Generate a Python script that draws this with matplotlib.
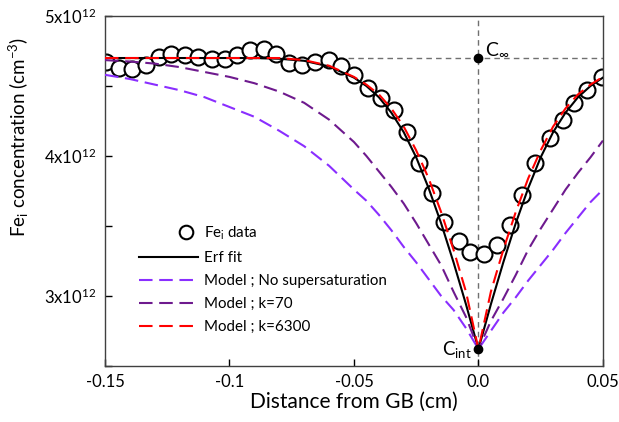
import numpy as np
import matplotlib
matplotlib.use("Agg")
import matplotlib.pyplot as plt
from matplotlib.legend_handler import HandlerLine2D

plt.rcParams['font.family'] = ['Lato', 'DejaVu Sans']
plt.rcParams['mathtext.default'] = 'regular'

# Fe_i measured data (x in cm, y in 1e12 cm^-3)
x_data = [-0.1494, -0.1444, -0.1390, -0.1336, -0.1283, -0.1233, -0.1179, -0.1126,
          -0.1072, -0.1019, -0.0968, -0.0917, -0.0863, -0.0813, -0.0761, -0.0710,
          -0.0656, -0.0602, -0.0550, -0.0498, -0.0445, -0.0393, -0.0341, -0.0287,
          -0.0237, -0.0186, -0.0137, -0.0079, -0.0032, 0.0021, 0.0073, 0.0127,
          0.0177, 0.0228, 0.0286, 0.0338, 0.0385, 0.0438, 0.0496]
y_data = [4.671, 4.629, 4.618, 4.650, 4.707, 4.729, 4.725, 4.707,
          4.691, 4.693, 4.718, 4.757, 4.766, 4.729, 4.664, 4.650,
          4.671, 4.686, 4.643, 4.579, 4.489, 4.412, 4.329, 4.171,
          3.948, 3.734, 3.531, 3.395, 3.316, 3.300, 3.364, 3.507,
          3.721, 3.948, 4.129, 4.257, 4.376, 4.471, 4.562]

# curves
x_curve = [-0.15, -0.14, -0.13, -0.12, -0.11, -0.10, -0.09, -0.08, -0.07, -0.06,
           -0.05, -0.045, -0.04, -0.035, -0.03, -0.025, -0.02, -0.015, -0.01,
           -0.005, 0.0, 0.005, 0.01, 0.015, 0.02, 0.025, 0.03, 0.035, 0.04,
           0.045, 0.05]
y_erf = [4.70, 4.70, 4.70, 4.70, 4.70, 4.70, 4.70, 4.695, 4.68, 4.64,
         4.56, 4.50, 4.42, 4.31, 4.17, 3.99, 3.77, 3.52, 3.24,
         2.94, 2.62, 2.94, 3.24, 3.52, 3.77, 3.99, 4.17, 4.31, 4.42,
         4.50, 4.56]
y_k6300 = [4.70, 4.70, 4.70, 4.70, 4.70, 4.70, 4.70, 4.70, 4.685, 4.645,
           4.565, 4.51, 4.44, 4.34, 4.21, 4.04, 3.84, 3.60, 3.33,
           3.03, 2.62, 3.03, 3.33, 3.60, 3.84, 4.04, 4.21, 4.34, 4.44,
           4.51, 4.565]
y_k70 = [4.685, 4.675, 4.66, 4.635, 4.60, 4.565, 4.52, 4.46, 4.38, 4.26,
         4.10, 4.00, 3.89, 3.78, 3.66, 3.52, 3.37, 3.22, 3.03,
         2.85, 2.62, 2.82, 2.98, 3.15, 3.33, 3.48, 3.62, 3.76, 3.88,
         3.99, 4.11]
y_nosat = [4.58, 4.55, 4.51, 4.47, 4.42, 4.35, 4.28, 4.18, 4.07, 3.93,
           3.76, 3.68, 3.58, 3.47, 3.35, 3.24, 3.12, 3.00, 2.90,
           2.77, 2.62, 2.75, 2.88, 2.99, 3.11, 3.22, 3.33, 3.45, 3.56,
           3.67, 3.76]

c_inf = 4.70
c_int = 2.62

x_ticks = [-0.15, -0.1, -0.05, 0.0, 0.05]
x_ticklabels = ['-0.15', '-0.1', '-0.05', '0.0', '0.05']
y_ticks = [3, 4, 5]
y_ticklabels = ['3x10$^{12}$', '4x10$^{12}$', '5x10$^{12}$']


class RightMarker(HandlerLine2D):
    # moves the single legend marker towards the right end of the handle
    def get_xdata(self, legend, xdescent, ydescent, width, height, fontsize):
        xd, xm = super().get_xdata(legend, xdescent, ydescent, width, height, fontsize)
        pos = -xdescent + 0.8 * width
        return np.array([pos - 1, pos + 1]), np.array([pos])


fig = plt.figure(figsize=(6.19, 4.22), dpi=100)
ax = fig.add_axes([0.1696, 0.133, 0.8044, 0.829])

grey = '#707070'
ax.axhline(c_inf, color=grey, lw=1.0, dashes=(4, 3), zorder=1)
ax.axvline(0.0, color=grey, lw=1.0, dashes=(4, 3), zorder=1)

dash = (6.5, 3.2)
ax.plot(x_data, y_data, 'o', ms=11.5, mfc='white', mec='black', mew=1.5,
        zorder=2, label='Fe$_i$ data')
ax.plot(x_curve, y_erf, color='black', lw=1.5, zorder=3, label='Erf fit')
ax.plot(x_curve, y_nosat, color='#8a2eff', lw=1.5, dashes=dash, zorder=3,
        label='Model ; No supersaturation')
ax.plot(x_curve, y_k70, color='#6e1a8e', lw=1.5, dashes=dash, zorder=3,
        label='Model ; k=70')
ax.plot(x_curve, y_k6300, color='#ff0000', lw=1.5, dashes=dash, zorder=4,
        label='Model ; k=6300')

ax.plot([0.0, 0.0], [c_inf, c_int], 'o', color='black', ms=6, zorder=6, ls='none')
ax.text(0.0028, 4.725, 'C$_\\infty$', fontsize=14, ha='left', va='baseline')
ax.text(-0.0028, 2.58, 'C$_{int}$', fontsize=13.5, ha='right', va='baseline')

ax.set_xlim(-0.15, 0.05)
ax.set_ylim(2.5, 5.0)
ax.set_xticks(x_ticks)
ax.set_xticklabels(x_ticklabels)
ax.set_yticks(y_ticks)
ax.set_yticklabels(y_ticklabels)
ax.set_yticks([2.5, 3.5, 4.5], minor=True)
ax.tick_params(direction='in', length=5, width=1, labelsize=12, pad=6,
               top=False, right=False)
ax.tick_params(which='minor', direction='in', length=5, width=1, top=False, right=False)
for s in ax.spines.values():
    s.set_color('#404040')
    s.set_linewidth(1.0)

ax.set_xlabel('Distance from GB (cm)', fontsize=15, labelpad=1)
ax.set_ylabel('Fe$_i$ concentration (cm$^{-3}$)', fontsize=13.5)
ax.yaxis.set_label_coords(-0.148, 0.654)

handles, labels = ax.get_legend_handles_labels()
ax.legend(handles, labels, loc='lower left', bbox_to_anchor=(0.04, 0.052),
          frameon=False, fontsize=10.9, handlelength=3.9, handletextpad=0.45,
          labelspacing=0.6, numpoints=1, markerscale=0.85,
          handler_map={handles[0]: RightMarker(numpoints=1)})

fig.savefig('out.png', dpi=100)
